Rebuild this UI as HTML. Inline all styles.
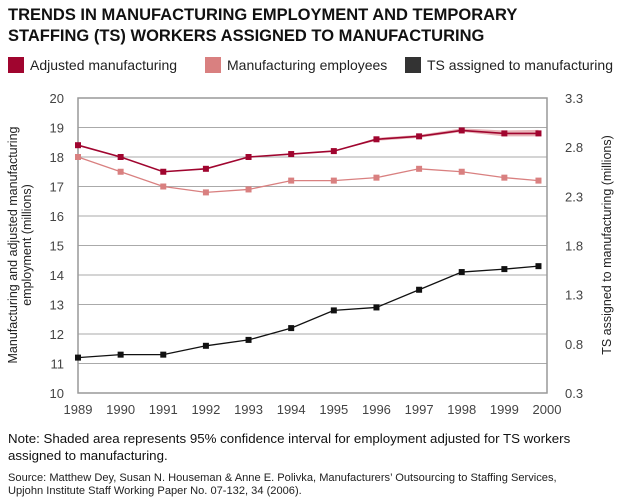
<!DOCTYPE html>
<html><head><meta charset="utf-8"><style>
body{margin:0;background:#fff;font-family:"Liberation Sans",sans-serif;}
svg text{font-family:"Liberation Sans",sans-serif;}
</style></head><body>
<svg width="625" height="499" xmlns="http://www.w3.org/2000/svg">
<text x="8" y="20" font-size="16.5" font-weight="bold" fill="#111">TRENDS IN MANUFACTURING EMPLOYMENT AND TEMPORARY</text>
<text x="8" y="41" font-size="16.5" font-weight="bold" fill="#111">STAFFING (TS) WORKERS ASSIGNED TO MANUFACTURING</text>
<g>
<rect x="8" y="57" width="16" height="16" fill="#a0052f"/>
<text x="30" y="70" font-size="14" fill="#222">Adjusted manufacturing</text>
<rect x="205" y="57" width="16" height="16" fill="#d98080"/>
<text x="227" y="70" font-size="14" fill="#222">Manufacturing employees</text>
<rect x="405" y="57" width="16" height="16" fill="#333"/>
<text x="427" y="70" font-size="14" fill="#222">TS assigned to manufacturing</text>
</g>
<g id="plot"></g>
<text transform="translate(20,245) rotate(-90)" text-anchor="middle" font-size="12.5" fill="#222"><tspan x="0" dy="-3">Manufacturing and adjusted manufacturing</tspan><tspan x="0" dy="14">employment (millions)</tspan></text>
<text transform="translate(611,245) rotate(-90)" text-anchor="middle" font-size="12.5" fill="#222">TS assigned to manufacturing (millions)</text>
<text x="8" y="443" font-size="13.3" fill="#111">Note: Shaded area represents 95% confidence interval for employment adjusted for TS workers</text>
<text x="8" y="460" font-size="13.3" fill="#111">assigned to manufacturing.</text>
<text x="8" y="481" font-size="11.1" fill="#222">Source: Matthew Dey, Susan N. Houseman &amp; Anne E. Polivka, Manufacturers’ Outsourcing to Staffing Services,</text>
<text x="8" y="494" font-size="11.1" fill="#222">Upjohn Institute Staff Working Paper No. 07-132, 34 (2006).</text>
</svg>
<script>
const years=[1989,1990,1991,1992,1993,1994,1995,1996,1997,1998,1999,1999.8];
const adjusted=[18.4,18.0,17.5,17.6,18.0,18.1,18.2,18.6,18.7,18.9,18.8,18.8];
const adjLow=[18.4,18.0,17.5,17.6,18.0,18.1,18.2,18.55,18.65,18.85,18.7,18.7];
const adjHigh=[18.4,18.0,17.5,17.6,18.0,18.1,18.2,18.65,18.75,18.97,18.9,18.92];
const manufacturing=[18.0,17.5,17.0,16.8,16.9,17.2,17.2,17.3,17.6,17.5,17.3,17.2];
const tsWorkers=[0.66,0.69,0.69,0.78,0.84,0.96,1.14,1.17,1.35,1.53,1.56,1.59];
const xTicks=[1989,1990,1991,1992,1993,1994,1995,1996,1997,1998,1999,2000];
const leftTicks=[10,11,12,13,14,15,16,17,18,19,20];
const rightTicks=["0.3","0.8","1.3","1.8","2.3","2.8","3.3"];
const X0=78,X1=547,YT=98,YB=393;
const x=v=>X0+(v-1989)/11*(X1-X0);
const yL=v=>YB-(v-10)/10*(YB-YT);
const yR=v=>YB-(v-0.3)/3*(YB-YT);
const NS="http://www.w3.org/2000/svg",g=document.getElementById('plot');
function mk(t,a){const e=document.createElementNS(NS,t);for(const k in a)e.setAttribute(k,a[k]);g.appendChild(e);return e;}
leftTicks.forEach(v=>{
 const l=mk('line',{x1:X0,x2:X1,y1:yL(v),y2:yL(v),stroke:'#aaa','stroke-width':1});
 
 
 const t=mk('text',{x:64,y:yL(v)+5,'text-anchor':'end','font-size':13,fill:'#444'});t.textContent=v;
 
 
});
rightTicks.forEach(s=>{
 const t=mk('text',{x:565,y:yR(+s)+5,'font-size':13,fill:'#444'});t.textContent=s;
 
 
});
xTicks.forEach(v=>{
 const t=mk('text',{x:x(v),y:414,'text-anchor':'middle','font-size':13,fill:'#444'});t.textContent=v;
 
 
});
const fr=mk('rect',{x:X0,y:YT,width:X1-X0,height:YB-YT,fill:'none',stroke:'#999','stroke-width':1.5});


let band='M'+years.map((yr,i)=>x(yr)+','+yL(adjHigh[i])).join('L')+'L'+years.map((yr,i)=>x(yr)+','+yL(adjLow[i])).reverse().join('L')+'Z';
const b=mk('path',{d:band,fill:'#e8b4b8',stroke:'none'});


function series(vals,fy,col,name,w){
 const p=mk('polyline',{points:years.map((yr,i)=>x(yr)+','+fy(vals[i])).join(' '),fill:'none',stroke:col,'stroke-width':w});
 
 
 years.forEach((yr,i)=>{const r=mk('rect',{x:x(yr)-3,y:fy(vals[i])-3,width:6,height:6,fill:col});
  
  });
}
series(manufacturing,yL,'#d98080','manufacturing',1.3);
series(adjusted,yL,'#a0052f','adjusted',1.6);
series(tsWorkers,yR,'#111','ts',1.3);
</script>
</body></html>
